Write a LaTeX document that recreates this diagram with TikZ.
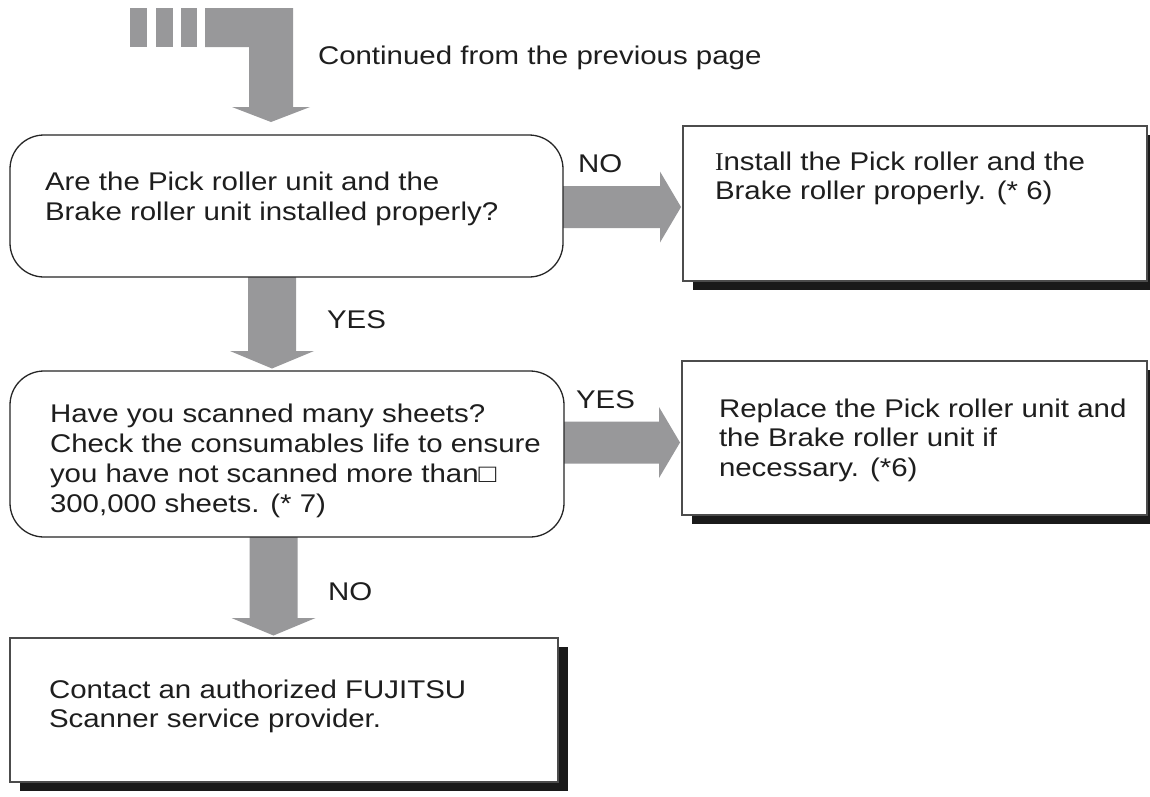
\documentclass[tikz,border=0pt]{standalone}
\usepackage{fontspec}
\setmainfont{Liberation Sans}[FakeStretch=1.15]
\newfontfamily\serifI{Liberation Serif}
\usetikzlibrary{calc,shadows,backgrounds}
\definecolor{arrowgray}{RGB}{152,152,154}
\definecolor{shadowc}{RGB}{26,26,26}
\definecolor{textc}{RGB}{30,30,30}

% vertical block arrow: #1 source node, #2 target node, #3 column coordinate
\newcommand\VArrow[3]{%
  \fill[blockarrow] ($(#3 |- #1.south)+(-24,0)$) -- ($(#3 |- #1.south)+(24,0)$)
    -- ($(#3 |- #2.north)+(24,-20)$) -- ($(#3 |- #2.north)+(42,-20)$)
    -- ($(#3 |- #2.north)+(0,-2.5)$) -- ($(#3 |- #2.north)+(-42,-20)$)
    -- ($(#3 |- #2.north)+(-24,-20)$) -- cycle;}
% horizontal block arrow: #1 source node, #2 target node, #3 row coordinate
\newcommand\HArrow[3]{%
  \fill[blockarrow] ($(#1.east |- #3)+(0,-21)$) -- ($(#2.west |- #3)+(-23,-21)$)
    -- ($(#2.west |- #3)+(-23,-35.5)$) -- ($(#2.west |- #3)+(-2,0)$)
    -- ($(#2.west |- #3)+(-23,35.5)$) -- ($(#2.west |- #3)+(-23,21)$)
    -- ($(#1.east |- #3)+(0,21)$) -- cycle;}

\begin{document}
\begin{tikzpicture}[x=1pt,y=-1pt,
  every node/.style={inner sep=0pt, outer sep=0pt},
  txt/.style={font=\fontsize{25.6pt}{29.5pt}\selectfont, align=left, anchor=north west, text=textc},
  txtw/.style={txt, font=\fontsize{25.6pt}{30pt}\selectfont},
  lbl/.style={font=\fontsize{25.6pt}{30pt}\selectfont, anchor=base west, text=textc},
  decision/.style={rectangle, draw=black!85, line width=1.3pt, rounded corners=34pt, fill=white},
  actbox/.style={rectangle, draw=black!70, line width=1.2pt, fill=white,
    general shadow={fill=shadowc, shadow xshift=10pt, shadow yshift=-9pt}},
  blockarrow/.style={fill=arrowgray}]

\useasboundingbox (0,0) rectangle (1150,796);

% boxes
\node[decision, minimum width=553pt, minimum height=142pt] (d1) at (286.5,206) {};
\node[actbox, minimum width=464pt, minimum height=155pt] (r1) at (915,203.5) {};
\node[decision, minimum width=554pt, minimum height=166pt] (d2) at (287,454) {};
\node[actbox, minimum width=465pt, minimum height=154pt] (r2) at (914.5,438) {};
\node[actbox, minimum width=548pt, minimum height=144pt] (b3) at (284,710) {};

% texts
\node[txtw] (t1) at (45,170) {\rule{0pt}{20pt}Are the Pick roller unit and the\\Brake roller unit installed properly?};
\node[txt] (t2) at (715,150) {\rule{0pt}{20pt}{\serifI I}nstall the Pick roller and the\\Brake roller properly. (* 6)};
\node[txtw] (t3) at (50,402) {\rule{0pt}{20pt}Have you scanned many sheets?\\Check the consumables life to ensure\\you have not scanned more than□\\300,000 sheets. (* 7)};
\node[txt] (t4) at (719,397) {\rule{0pt}{20pt}Replace the Pick roller unit and\\the Brake roller unit if\\necessary. (*6)};
\node[txt] (t5) at (49,678) {\rule{0pt}{20pt}Contact an authorized FUJITSU\\Scanner service provider.};

\node[lbl] (cont) at (318,64) {Continued from the previous page};
\node[lbl] (lno1) at (578,172) {NO};
\node[lbl] (lyes1) at (327,328) {YES};
\node[lbl] (lyes2) at (576,408) {YES};
\node[lbl] (lno2) at (328,600) {NO};

% connectors
\coordinate (colT) at (271,0);
\coordinate (colA) at (272,0);
\coordinate (colB) at (273.5,0);
\coordinate (rowA) at (0,207);
\coordinate (rowB) at (0,442.5);
\coordinate (prev) at (205,8);

\begin{pgfonlayer}{background}
  \fill[white] (0,0) rectangle (1150,796);
  \fill[blockarrow] (130,8) rectangle (147,47);
  \fill[blockarrow] (156,8) rectangle (173,47);
  \fill[blockarrow] (181,8) rectangle (197,47);
  \fill[blockarrow] (prev) -- (293,8) -- (293,107) -- (310,107)
    -- ($(colT |- d1.north)+(0,-13)$) -- (232,107) -- (249,107) -- (249,47) -- (205,47) -- cycle;
  \VArrow{d1}{d2}{colA}
  \VArrow{d2}{b3}{colB}
  \HArrow{d1}{r1}{rowA}
  \HArrow{d2}{r2}{rowB}
\end{pgfonlayer}
\end{tikzpicture}
\end{document}
